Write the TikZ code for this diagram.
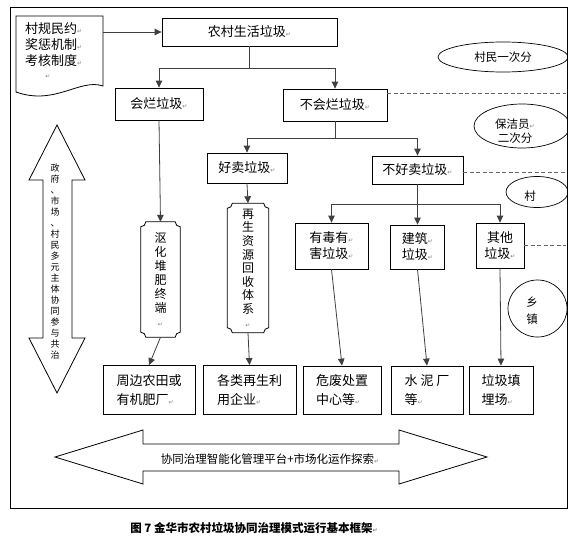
\documentclass[tikz,border=0pt]{standalone}
\usepackage{fontspec}
\setmainfont{Noto Sans CJK SC}
\newfontfamily\dv{DejaVu Sans}
\usetikzlibrary{arrows.meta,calc,shapes.geometric}
\newcommand\retmark{{\dv\fontsize{6}{6}\selectfont\textcolor{gray}{↵}}}
\newcommand\scrollshape[1]{%
\draw[line width=0.8pt] let \p1=(#1.north west), \p2=(#1.south east) in
 ({\x1+5pt},\y1) -- ({\x2-5pt},\y1)
 .. controls ({\x2-5pt},{\y1-2.75pt}) and ({\x2-2.75pt},{\y1-5pt}) .. (\x2,{\y1-5pt})
 -- (\x2,{\y2+5pt})
 .. controls ({\x2-2.75pt},{\y2+5pt}) and ({\x2-5pt},{\y2+2.75pt}) .. ({\x2-5pt},\y2)
 -- ({\x1+5pt},\y2)
 .. controls ({\x1+5pt},{\y2+2.75pt}) and ({\x1+2.75pt},{\y2+5pt}) .. (\x1,{\y2+5pt})
 -- (\x1,{\y1-5pt})
 .. controls ({\x1+2.75pt},{\y1-5pt}) and ({\x1+5pt},{\y1-2.75pt}) .. ({\x1+5pt},\y1) -- cycle;}
\begin{document}
\begin{tikzpicture}[x=1pt,y=-1pt,
 box/.style={draw,line width=0.8pt,inner sep=0,align=center,font=\fontsize{13}{16}\selectfont},
 endbox/.style={draw,line width=0.8pt,inner sep=0,align=left,font=\fontsize{13}{19.5}\selectfont},
 arr/.style={draw=black!75,line width=0.8pt,-{Triangle[length=7pt,width=6.5pt]}},
 ln/.style={draw=black!75,line width=0.8pt},
 dsh/.style={draw=black!60,line width=0.8pt,dash pattern=on 4pt off 2.5pt},
 ell/.style={draw,ellipse,line width=0.7pt,inner sep=0},
 etxt/.style={inner sep=0,align=center,font=\fontsize{11.5}{14}\selectfont},
 vtxt/.style={inner sep=0,align=center,font=\fontsize{12}{14}\selectfont},
 ]
\useasboundingbox (0,0) rectangle (580,538);
\fill[white] (0,0) rectangle (580,538);
\coordinate (frR) at (566,0);
\coordinate (frTL) at (10,7);
\coordinate (frBR) at (567.6,508);

% document shape
\draw[line width=0.8pt] (16,16) -- (103,16) -- (103,86) .. controls (80,78) and (55,106) .. (16,92) -- cycle;
\node[align=left,inner sep=0,anchor=north west,font=\fontsize{13}{16}\selectfont] (doc) at (25,22) {村规民约\retmark\\奖惩机制\retmark\\考核制度\retmark};
\node[inner sep=0] (docret) at (48,77) {\retmark};
\coordinate (docout) at (103,32);

% boxes
\node[box,minimum width=175pt,minimum height=28pt] (top) at (249.5,32) {农村生活垃圾\retmark};
\node[box,minimum width=88pt,minimum height=32pt] (rot) at (159,104) {会烂垃圾\retmark};
\node[box,minimum width=104pt,minimum height=32pt] (nrot) at (335,105) {不会烂垃圾\retmark};
\node[box,minimum width=80pt,minimum height=30pt] (sell) at (247,168) {好卖垃圾\retmark};
\node[box,minimum width=91pt,minimum height=28pt] (nsell) at (417.5,170) {不好卖垃圾\retmark};
\node[box,minimum width=73pt,minimum height=46pt] (tox) at (331.5,246) {有毒有\retmark\\害垃圾\retmark};
\node[box,minimum width=54pt,minimum height=44pt] (bld) at (417.5,247) {建筑\retmark\\垃圾\retmark};
\node[box,minimum width=48pt,minimum height=45pt] (oth) at (500,245.5) {其他\\垃圾\retmark};

% scroll boxes
\node[vtxt,minimum width=39pt,minimum height=115pt] (comp) at (160.5,279.5) {沤\\化\\堆\\肥\\终\\端\\\retmark};
\scrollshape{comp}
\node[vtxt,minimum width=41pt,minimum height=129pt,font=\fontsize{12}{13.6}\selectfont] (recy) at (248,268) {再\\生\\资\\源\\回\\收\\体\\系\\\retmark};
\scrollshape{recy}

% end boxes
\node[endbox,minimum width=92pt,minimum height=49pt] (b1) at (149,390) {周边农田或\\有机肥厂\retmark};
\node[endbox,minimum width=93pt,minimum height=49pt] (b2) at (249.5,390) {各类再生利\\用企业\retmark};
\node[endbox,minimum width=78pt,minimum height=48pt] (b3) at (342,390) {危废处置\\中心等\retmark};
\node[endbox,minimum width=72pt,minimum height=48pt] (b4) at (427,390) {水 泥 厂\\等\retmark};
\node[endbox,minimum width=64pt,minimum height=48pt] (b5) at (501,390) {垃圾填\\埋场\retmark};

% connectors
\draw[arr] (docout) -- (top.west);
\draw[ln] (top.south) -- ++(0,22) coordinate (s1);
\draw[arr] (s1) -| (rot.north);
\draw[arr] (s1) -| (nrot.north);
\draw[ln] (nrot.south) -- ++(0,17) coordinate (s2);
\draw[arr] (s2) -| (sell.north);
\draw[arr] (s2) -| (nsell.north);
\draw[ln] (nsell.south) -- ++(0,20) coordinate (s3);
\draw[arr] (s3) -| (tox.north);
\draw[arr] (s3) -- (bld.north);
\draw[arr] (s3) -| (oth.north);
\draw[arr] (rot.south) -- (comp.north);
\draw[arr] (sell.south) -- (recy.north);
\draw[arr] (comp.south) -- (b1.north);
\draw[arr] (recy.south) -- (b2.north);
\draw[arr] (tox.south) -- (b3.north);
\draw[arr] (bld.south) -- (b4.north);
\draw[arr] (oth.south) -- (b5.north);

% dashed lines and ellipses, clipped to the frame
\begin{scope}
\clip (frTL) rectangle (frBR);
\coordinate (d1) at ($(nrot.east)+(0,-12)$);
\coordinate (d2) at ($(nsell.east)+(0,2)$);
\draw[dsh] (d1) -- (d1 -| frR);
\draw[dsh] (d2) -- (d2 -| frR);
\draw[dsh] (oth.east) -- (oth.east -| frR);
\node[ell,minimum width=130pt,minimum height=30pt,etxt] (e1) at (503,57) {村民一次分};
\node[ell,minimum width=96pt,minimum height=44pt] (e2) at (522,126) {};
\node[ell,minimum width=62pt,minimum height=31pt] (e3) at (537,192) {};
\node[ell,minimum width=59pt,minimum height=57pt] (e4) at (537.5,308.5) {};
\end{scope}
\draw[line width=0.8pt] (frTL) rectangle (frBR);
\node[etxt] (e2t) at (515,131) {保洁员\retmark\\二次分};
\node[etxt] (e3t) at (530,196) {村};
\node[etxt,font=\fontsize{11.5}{17}\selectfont] (e4t) at (532,311) {乡\\镇};

% left double arrow
\draw[line width=0.8pt] (57,125) -- (85,180) -- (72,180) -- (72,338) -- (85,338) -- (57,393)
 -- (29,338) -- (43,338) -- (43,180) -- (29,180) -- cycle;
\node[inner sep=0,align=center,font=\fontsize{9}{11}\selectfont] (ltxt) at (55,262) {政\\府\\、\\市\\场\\、\\村\\民\\多\\元\\主\\体\\协\\同\\参\\与\\共\\治};

% bottom double arrow
\draw[line width=0.8pt] (55,457) -- (143,430) -- (143,444) -- (399,444) -- (399,430) -- (487,457)
 -- (399,484) -- (399,471) -- (143,471) -- (143,484) -- cycle;
\node[inner sep=0,font=\fontsize{11.5}{13}\selectfont] (btxt) at (270,459) {协同治理智能化管理平台+市场化运作探索\retmark};

% caption
\node[inner sep=0,font=\fontsize{11.5}{13}\selectfont\bfseries] (cap) at (254,528) {图 7 金华市农村垃圾协同治理模式运行基本框架\retmark};
\end{tikzpicture}
\end{document}
